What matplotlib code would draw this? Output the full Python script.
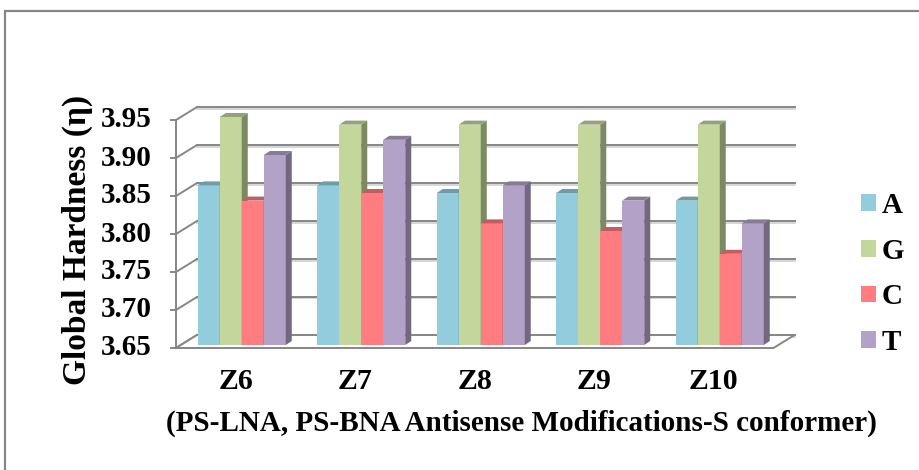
import numpy as np
import matplotlib.pyplot as plt
from matplotlib.patches import Polygon, Rectangle, Patch
from matplotlib.transforms import ScaledTranslation

groups = ['Z6', 'Z7', 'Z8', 'Z9', 'Z10']
bases = ['A', 'G', 'C', 'T']
a_vals = [3.86, 3.86, 3.85, 3.85, 3.84]
g_vals = [3.95, 3.94, 3.94, 3.94, 3.94]
c_vals = [3.84, 3.85, 3.81, 3.80, 3.77]
t_vals = [3.90, 3.92, 3.86, 3.84, 3.81]
yticks = [3.65, 3.70, 3.75, 3.80, 3.85, 3.90, 3.95]

face_colors = ['#93CDDD', '#C3D69B', '#FF7C80', '#B3A2C7']
grid_color = '#868686'
font = dict(family='Liberation Serif', weight='bold')

fig = plt.figure(figsize=(9.2, 4.7), dpi=100)
ax = fig.add_axes([182 / 920, 125 / 470, 597.5 / 920, 228 / 470])
ax.set_xlim(-0.5, 4.5)
ax.set_ylim(3.65, 3.95)
ax.axis('off')

# pixel -> data unit conversion, used for the fake 3D depth
p0 = ax.transData.transform((0, 3.65))
p1 = ax.transData.transform((1, 3.70))
ux = 1 / (p1[0] - p0[0])
uy = 0.05 / (p1[1] - p0[1])

def off(px, py):
    return px * ux, py * uy

fdx, fdy = off(-6, -3)    # front edge of the box
bdx, bdy = off(15, 10)    # back wall
ddx, ddy = off(6, 4)      # bar depth
ymin, ymax = yticks[0], yticks[-1]
xl, xr = -0.5, 4.5

# floor
floor = Polygon([(xl + fdx, ymin + fdy), (xr + fdx, ymin + fdy),
                 (xr + bdx, ymin + bdy), (xl + bdx, ymin + bdy)],
                closed=True, facecolor='white', edgecolor=grid_color,
                lw=1.4, zorder=2, clip_on=False)
ax.add_patch(floor)

shadow = ax.transData + ScaledTranslation(0, -1.5 / 100, fig.dpi_scale_trans)

# back wall gridlines and left wall lines
for y in yticks:
    ax.plot([xl + bdx, xr + bdx], [y + bdy, y + bdy], color='#d0d0d0',
            lw=1.2, zorder=1, clip_on=False, transform=shadow)
    ax.plot([xl + bdx, xr + bdx], [y + bdy, y + bdy], color=grid_color,
            lw=1.4, zorder=1, clip_on=False)
    ax.plot([xl + fdx, xl + bdx], [y + fdy, y + bdy], color=grid_color,
            lw=1.4, zorder=1, clip_on=False)
    # tick mark and label on the front axis
    tx, _ = off(-5, 0)
    ax.plot([xl + fdx + tx, xl + fdx], [y + fdy, y + fdy], color=grid_color,
            lw=1.4, zorder=2, clip_on=False)
    ax.text(xl + fdx + off(-24, 0)[0], y + fdy, f'{y:.2f}', ha='right',
            va='center', fontsize=21, **font)

ax.plot([xl + fdx, xl + fdx], [ymin + fdy, ymax + fdy], color=grid_color,
        lw=1.4, zorder=2, clip_on=False)

def shade(c, k):
    rgb = np.array(plt.matplotlib.colors.to_rgb(c))
    return tuple(rgb * k)

series = [a_vals, g_vals, c_vals, t_vals]
w = 22 * ux
x = np.arange(len(groups))
z = 3
for i in range(len(groups)):
    for j, vals in enumerate(series):
        v = vals[i]
        x0 = x[i] - 2 * w + j * w
        x1 = x0 + w
        c = face_colors[j]
        ax.add_patch(Rectangle((x0, ymin), w, v - ymin, facecolor=c,
                               edgecolor='none', zorder=z, clip_on=False))
        ax.add_patch(Polygon([(x1, ymin), (x1, v), (x1 + ddx, v + ddy),
                              (x1 + ddx, ymin + ddy)], closed=True,
                             facecolor=shade(c, 0.64), edgecolor='none',
                             zorder=z, clip_on=False))
        ax.add_patch(Polygon([(x0, v), (x1, v), (x1 + ddx, v + ddy),
                              (x0 + ddx, v + ddy)], closed=True,
                             facecolor=shade(c, 0.76), edgecolor='none',
                             zorder=z, clip_on=False))
        z += 1

for i, g in enumerate(groups):
    ax.text(x[i] + fdx, ymin + fdy + off(0, -34)[1], g, ha='center',
            va='center', fontsize=21.5, **font)

fig.text(521 / 920, 1 - 423 / 470,
         '(PS-LNA, PS-BNA Antisense Modifications-S conformer)',
         ha='center', va='center', fontsize=21, **font)
fig.text(77 / 920, 1 - 240 / 470, 'Global Hardness (η)', rotation=90,
         ha='center', va='center', fontsize=24, **font)

handles = [Patch(facecolor=c, edgecolor='none') for c in face_colors]
fig.legend(handles, bases, loc='center left',
           bbox_to_anchor=(861 / 920, 1 - 274 / 470), frameon=False,
           borderpad=0, borderaxespad=0, labelspacing=0.64,
           handlelength=0.51, handleheight=0.51, handletextpad=0.2,
           prop=dict(family='Liberation Serif', weight='bold', size=21))

# chart frame
fig.patches.append(Rectangle((5 / 920, -0.2), 1.2, 0.2 + 459 / 470,
                             transform=fig.transFigure, fill=False,
                             edgecolor=grid_color, lw=1.6))

fig.savefig('out.png', dpi=100)
